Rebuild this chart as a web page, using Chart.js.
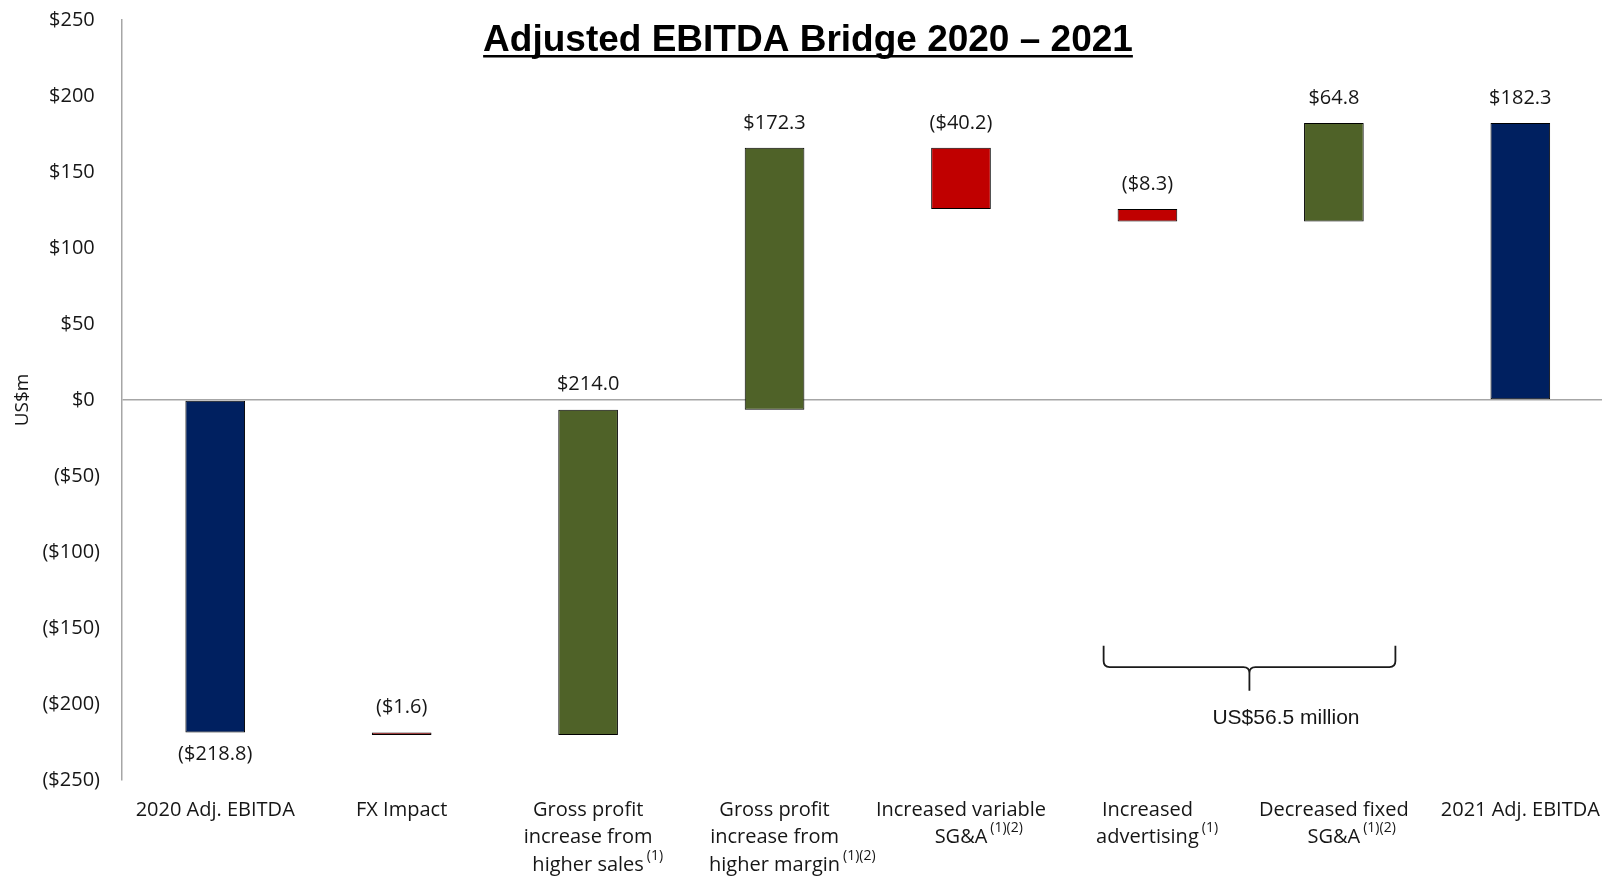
<!DOCTYPE html>
<html>
<head>
<meta charset="utf-8">
<script src="https://cdn.jsdelivr.net/npm/chart.js@4/dist/chart.umd.min.js"></script>
<style>
  html, body { margin: 0; padding: 0; background: #ffffff; overflow: hidden; }
  #wrap { position: relative; width: 1616px; height: 876px; }
</style>
</head>
<body>
<div id="wrap"><canvas id="bridge"></canvas></div>
<script>
// Bridge steps (US$m)
const categories = [
  ['2020 Adj. EBITDA'],
  ['FX Impact'],
  ['Gross profit', 'increase from', 'higher sales'],
  ['Gross profit', 'increase from', 'higher margin'],
  ['Increased variable', 'SG&A'],
  ['Increased', 'advertising'],
  ['Decreased fixed', 'SG&A'],
  ['2021 Adj. EBITDA']
];
const footnotes = ['', '', '(1)', '(1)(2)', '(1)(2)', '(1)', '(1)(2)', ''];
const changes = [-218.8, -1.6, 214.0, 172.3, -40.2, -8.3, 64.8, 182.3];
const barKinds = ['total', 'delta', 'delta', 'delta', 'delta', 'delta', 'delta', 'total'];
const yRange = { min: -250, max: 250, step: 50 };

// Bracket under the SG&A / advertising steps
const bracketText = 'US$56.5 million';
const bracketSpan = { from: 4.765, to: 6.33, tip: 5.547, textAt: 5.743 };
const bracketLevels = { ends: -161.6, line: -175.7, tip: -191.3, text: -209.5 };

const NAVY = '#002060', GREEN = '#4F6228', RED = '#C00000';
const TEXT = '#161616';
const LABEL_FONT = '"Open Sans", "Noto Sans", sans-serif';
const X_TICK_SIZE = 20, X_LINE_H = 1.38, X_PAD = 16;

// floating [start, end] ranges for each step
let running = 0;
const ranges = changes.map((v, i) => {
  if (barKinds[i] === 'total') { running = v; return [0, v]; }
  const start = running;
  running = +(running + v).toFixed(1);
  return [start, running];
});
const barColors = changes.map((v, i) =>
  barKinds[i] === 'total' ? NAVY : (v >= 0 ? GREEN : RED));

function money(v) {
  const s = '$' + Math.abs(v).toFixed(1);
  return v < 0 ? '(' + s + ')' : s;
}

const titlePlugin = {
  id: 'underlinedTitle',
  afterDraw(chart) {
    const ctx = chart.ctx;
    const text = 'Adjusted EBITDA Bridge 2020 \u2013 2021';
    ctx.save();
    ctx.font = 'bold 37px "Liberation Sans", Arial, sans-serif';
    ctx.fillStyle = '#000';
    ctx.textAlign = 'center';
    ctx.textBaseline = 'alphabetic';
    const cx = chart.width / 2;
    const baseY = 51;
    ctx.fillText(text, cx, baseY);
    const w = ctx.measureText(text).width;
    ctx.fillRect(cx - w / 2, baseY + 4, w, 2.5);
    ctx.restore();
  }
};

const valueLabels = {
  id: 'valueLabels',
  afterDatasetsDraw(chart) {
    const ctx = chart.ctx;
    const meta = chart.getDatasetMeta(0);
    ctx.save();
    ctx.font = '20px ' + LABEL_FONT;
    ctx.fillStyle = TEXT;
    ctx.textAlign = 'center';
    ctx.textBaseline = 'middle';
    meta.data.forEach((bar, i) => {
      const top = Math.min(bar.y, bar.base);
      const bottom = Math.max(bar.y, bar.base);
      const below = barKinds[i] === 'total' && changes[i] < 0;
      ctx.fillText(money(changes[i]), bar.x, below ? bottom + 22 : top - 25);
    });
    ctx.restore();
  }
};

const footnoteMarks = {
  id: 'footnoteMarks',
  afterDraw(chart) {
    const ctx = chart.ctx;
    const xs = chart.scales.x;
    const lh = X_TICK_SIZE * X_LINE_H;
    ctx.save();
    categories.forEach((lines, i) => {
      if (!footnotes[i]) return;
      const last = lines[lines.length - 1];
      ctx.font = X_TICK_SIZE + 'px ' + LABEL_FONT;
      const w = ctx.measureText(last).width;
      const cx = xs.getPixelForTick(i);
      const lineY = xs.top + X_PAD + lh / 2 + (lines.length - 1) * lh;
      ctx.font = '14px ' + LABEL_FONT;
      ctx.fillStyle = TEXT;
      ctx.textAlign = 'left';
      ctx.textBaseline = 'middle';
      ctx.fillText(footnotes[i], cx + w / 2 + 3, lineY - 9);
    });
    ctx.restore();
  }
};

const bracket = {
  id: 'bracket',
  afterDraw(chart) {
    const ctx = chart.ctx;
    const xs = chart.scales.x, ys = chart.scales.y;
    const L = xs.getPixelForValue(bracketSpan.from);
    const R = xs.getPixelForValue(bracketSpan.to);
    const T = xs.getPixelForValue(bracketSpan.tip);
    const yEnd = ys.getPixelForValue(bracketLevels.ends);
    const yLine = ys.getPixelForValue(bracketLevels.line);
    const yTip = ys.getPixelForValue(bracketLevels.tip);
    const r = 6;
    ctx.save();
    ctx.strokeStyle = '#1a1a1a';
    ctx.lineWidth = 1.8;
    ctx.beginPath();
    ctx.moveTo(L, yEnd);
    ctx.lineTo(L, yLine - r);
    ctx.quadraticCurveTo(L, yLine, L + r, yLine);
    ctx.lineTo(T - r, yLine);
    ctx.quadraticCurveTo(T, yLine, T, yLine + r);
    ctx.lineTo(T, yTip);
    ctx.moveTo(T, yLine + r);
    ctx.quadraticCurveTo(T, yLine, T + r, yLine);
    ctx.lineTo(R - r, yLine);
    ctx.quadraticCurveTo(R, yLine, R, yLine - r);
    ctx.lineTo(R, yEnd);
    ctx.stroke();
    ctx.font = '21px "Liberation Sans", Arial, sans-serif';
    ctx.fillStyle = TEXT;
    ctx.textAlign = 'center';
    ctx.textBaseline = 'middle';
    ctx.fillText(bracketText, xs.getPixelForValue(bracketSpan.textAt), ys.getPixelForValue(bracketLevels.text));
    ctx.restore();
  }
};

new Chart(document.getElementById('bridge'), {
  type: 'bar',
  data: {
    labels: categories,
    datasets: [{
      data: ranges,
      backgroundColor: barColors,
      borderColor: '#000000',
      borderWidth: 1,
      borderSkipped: false,
      barPercentage: 0.32,
      categoryPercentage: 1.0
    }]
  },
  options: {
    responsive: true,
    maintainAspectRatio: false,
    devicePixelRatio: 1,
    animation: false,
    layout: { padding: { top: 20, right: 2, bottom: 0, left: 0 } },
    plugins: {
      legend: { display: false },
      tooltip: { enabled: false },
      title: { display: false }
    },
    scales: {
      x: {
        grid: { display: false, drawTicks: false },
        border: { display: false },
        ticks: {
          autoSkip: false,
          maxRotation: 0,
          minRotation: 0,
          padding: X_PAD,
          color: TEXT,
          font: { family: LABEL_FONT, size: X_TICK_SIZE, lineHeight: X_LINE_H }
        },
        afterFit(scale) { scale.height = 96; }
      },
      y: {
        min: yRange.min,
        max: yRange.max,
        grid: {
          drawTicks: false,
          lineWidth: 1.5,
          color: (c) => (c.tick && c.tick.value === 0 ? '#A6A6A6' : 'rgba(0,0,0,0)')
        },
        border: { display: true, color: '#A6A6A6', width: 1.5 },
        ticks: {
          stepSize: yRange.step,
          padding: 22,
          color: TEXT,
          font: { family: LABEL_FONT, size: 20 },
          callback: (v) => (v < 0 ? '($' + (-v) + ')' : '$' + v + ' ')
        },
        title: {
          display: true,
          text: 'US$m',
          color: TEXT,
          font: { family: LABEL_FONT, size: 19 },
          padding: { top: 11, bottom: 0 }
        },
        afterFit(scale) {
          scale.width = 122;
          scale.paddingTop = 0;
          scale.paddingBottom = 0;
        }
      }
    }
  },
  plugins: [valueLabels, footnoteMarks, bracket, titlePlugin]
});
</script>
</body>
</html>
